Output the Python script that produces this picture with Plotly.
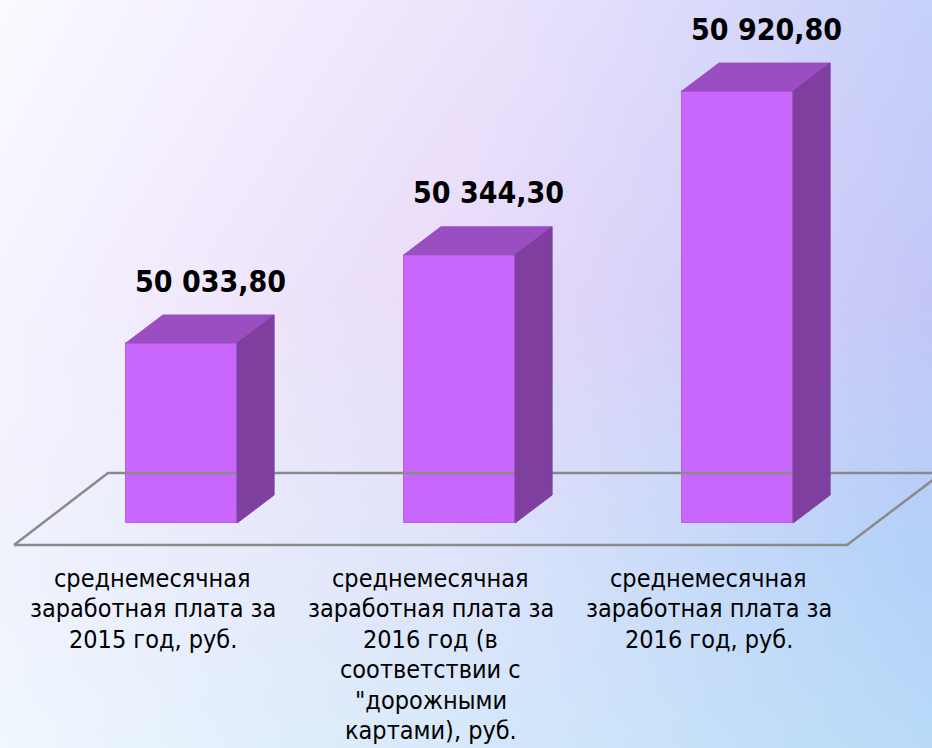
import base64
import struct
import zlib

import plotly.graph_objects as go

# data
categories = [
    "среднемесячная<br>заработная плата за<br>2015 год, руб.",
    "среднемесячная<br>заработная плата за<br>2016 год (в<br>соответствии с<br>\"дорожными<br>картами), руб.",
    "среднемесячная<br>заработная плата за<br>2016 год, руб.",
]
values = [50033.80, 50344.30, 50920.80]
axis_min = 49400

# styling / geometry
W, H = 932, 748
PX_PER_CAT = 278.0          # pixels between bar centres
PX_PER_UNIT = 0.284         # pixels per rouble on the value axis
X0_PX = 181.5               # pixel x of first category centre
BASE_PX = 523               # pixel y of the axis minimum
BAR_W = 0.4
DX = 37 / PX_PER_CAT        # depth offset in x units
DY = 28 / PX_PER_UNIT       # depth offset in value units
LINE_PX = 30.5              # category label line spacing

FRONT = "#c966fc"
TOP = "#9a4ec2"
SIDE = "#7e3f9f"
FLOOR = "#8a8a8a"

x_range = [-X0_PX / PX_PER_CAT, (W - X0_PX) / PX_PER_CAT]
y_range = [axis_min - (H - BASE_PX) / PX_PER_UNIT, axis_min + BASE_PX / PX_PER_UNIT]


def _gradient_png(w: int, h: int) -> str:
    xs = [0.0, 0.5, 1.0]
    ys = [0.0, 0.40, 0.75, 1.0]
    grid = [
        [(251, 250, 255), (238, 228, 252), (198, 208, 250)],
        [(246, 243, 254), (232, 218, 250), (196, 199, 246)],
        [(240, 242, 252), (222, 228, 250), (178, 209, 248)],
        [(240, 247, 254), (214, 232, 250), (184, 218, 248)],
    ]

    def seg(pts, t):
        for i in range(len(pts) - 1):
            if t <= pts[i + 1]:
                return i, (t - pts[i]) / (pts[i + 1] - pts[i])
        return len(pts) - 2, 1.0

    raw = bytearray()
    for r in range(h):
        fy = r / (h - 1)
        j, ty = seg(ys, fy)
        raw.append(0)
        for c in range(w):
            fx = c / (w - 1)
            i, tx = seg(xs, fx)
            px = []
            for ch in range(3):
                a = grid[j][i][ch] * (1 - tx) + grid[j][i + 1][ch] * tx
                b = grid[j + 1][i][ch] * (1 - tx) + grid[j + 1][i + 1][ch] * tx
                px.append(int(round(a * (1 - ty) + b * ty)))
            raw.extend(px)

    def chunk(tag, data):
        c = struct.pack(">I", len(data)) + tag + data
        return c + struct.pack(">I", zlib.crc32(tag + data) & 0xFFFFFFFF)

    png = b"\x89PNG\r\n\x1a\n"
    png += chunk(b"IHDR", struct.pack(">IIBBBBB", w, h, 8, 2, 0, 0, 0))
    png += chunk(b"IDAT", zlib.compress(bytes(raw), 9))
    png += chunk(b"IEND", b"")
    return "data:image/png;base64," + base64.b64encode(png).decode()


def _fmt(v: float) -> str:
    return f"{v:,.2f}".replace(",", " ").replace(".", ",")


fig = go.Figure()

# floor parallelogram
fl_front = axis_min - 22 / PX_PER_UNIT
fl_back = axis_min + 50 / PX_PER_UNIT
fl_x = [(14 - X0_PX) / PX_PER_CAT, (847 - X0_PX) / PX_PER_CAT,
        (942 - X0_PX) / PX_PER_CAT, (108 - X0_PX) / PX_PER_CAT]
fig.add_trace(go.Scatter(
    x=fl_x + [fl_x[0]],
    y=[fl_front, fl_front, fl_back, fl_back, fl_front],
    mode="lines", line=dict(color=FLOOR, width=2.5),
    hoverinfo="skip", showlegend=False,
))

xs = list(range(len(values)))

# front faces
fig.add_trace(go.Bar(
    x=xs, y=[v - axis_min for v in values], base=axis_min, width=BAR_W,
    marker=dict(color=FRONT, line=dict(color="#b95cec", width=1)),
    showlegend=False, hoverinfo="skip",
))

# top and side faces
for x, v in zip(xs, values):
    l, r = x - BAR_W / 2, x + BAR_W / 2
    fig.add_trace(go.Scatter(
        x=[l, r, r + DX, l + DX, l], y=[v, v, v + DY, v + DY, v],
        fill="toself", fillcolor=TOP, mode="lines",
        line=dict(color=TOP, width=1), hoverinfo="skip", showlegend=False,
    ))
    fig.add_trace(go.Scatter(
        x=[r, r, r + DX, r + DX, r], y=[axis_min, v, v + DY, axis_min + DY, axis_min],
        fill="toself", fillcolor=SIDE, mode="lines",
        line=dict(color=SIDE, width=1), hoverinfo="skip", showlegend=False,
    ))

annotations = []
for x, v in zip(xs, values):
    annotations.append(dict(
        x=x + 29 / PX_PER_CAT, y=v + DY, xref="x", yref="y",
        text=_fmt(v), showarrow=False, yshift=34, yanchor="middle",
        font=dict(family="DejaVu Sans Condensed, DejaVu Sans", size=30, color="#000000",
                  weight="bold"),
    ))
for x, c in zip(xs, categories):
    for k, line in enumerate(c.split("<br>")):
        annotations.append(dict(
            x=x - 29 / PX_PER_CAT, y=axis_min, xref="x", yref="y",
            text=line, showarrow=False, yanchor="middle", yshift=-(55 + LINE_PX * k),
            font=dict(family="DejaVu Sans Condensed, Liberation Sans Narrow, DejaVu Sans",
                      size=25, color="#000000"),
        ))

fig.update_layout(
    width=W, height=H,
    margin=dict(l=0, r=0, t=0, b=0),
    paper_bgcolor="#ffffff",
    plot_bgcolor="rgba(0,0,0,0)",
    xaxis=dict(range=x_range, visible=False, fixedrange=True),
    yaxis=dict(range=y_range, visible=False, fixedrange=True),
    annotations=annotations,
    images=[dict(
        source=_gradient_png(233, 187), xref="paper", yref="paper",
        x=0, y=1, sizex=1, sizey=1, xanchor="left", yanchor="top",
        sizing="stretch", layer="below",
    )],
    bargap=0,
)

fig.write_html(
    "out.html",
    config={"displayModeBar": False},
    post_script="document.body.style.margin='0';document.body.style.overflow='hidden';",
)
